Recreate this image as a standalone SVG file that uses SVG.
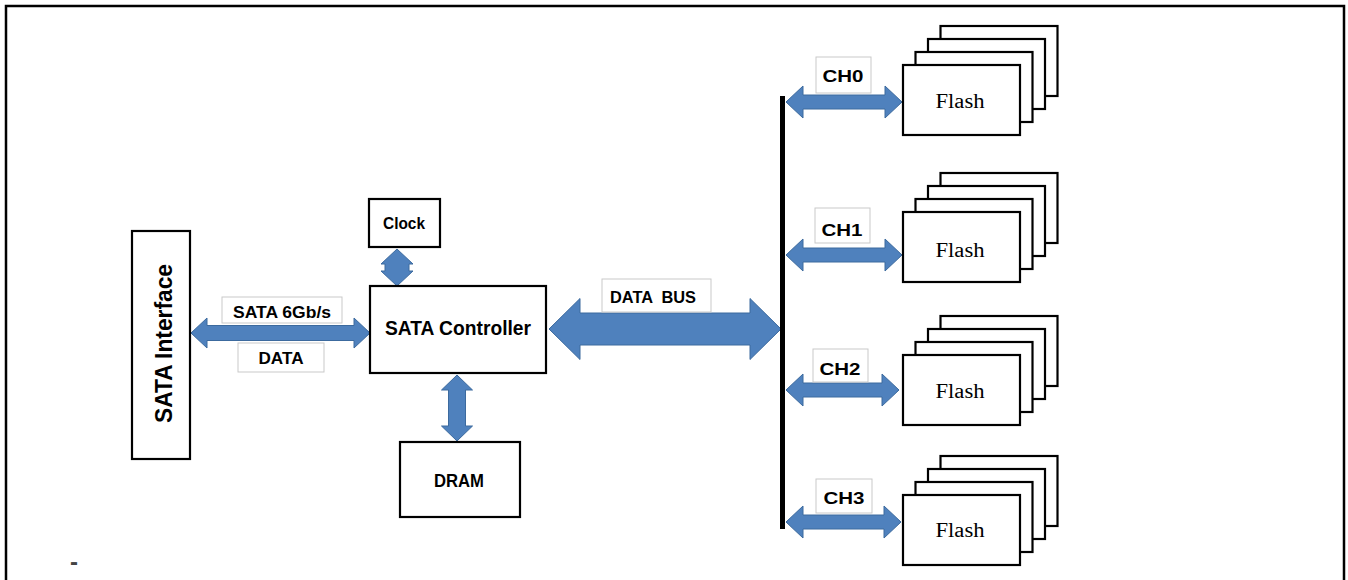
<svg xmlns="http://www.w3.org/2000/svg" width="1348" height="580" viewBox="0 0 1348 580">
<style>
.box{fill:#fff;stroke:#000;stroke-width:2.2}
.lbl{fill:#fff;stroke:#c9c9c9;stroke-width:1}
.arr{fill:#4f81bd;stroke:#3c6a9e;stroke-width:1}
.t{font-family:"Liberation Sans",Arial,sans-serif;font-weight:bold;fill:#000;text-anchor:middle;white-space:pre}
.f{font-family:"Liberation Serif","Times New Roman",serif;font-size:20px;fill:#000;text-anchor:middle}
</style>
<defs>
<g id="stack">
<rect class="box" x="37.5" y="-39" width="117" height="70"/>
<rect class="box" x="25" y="-26" width="117" height="70"/>
<rect class="box" x="12.5" y="-13" width="117" height="70"/>
<rect class="box" x="0" y="0" width="117" height="70"/>
</g>
</defs>
<rect width="1348" height="580" fill="#fff"/>
<path d="M6,580 L6,6 L1344,6 L1344,580" fill="none" stroke="#000" stroke-width="2.5"/>
<text x="70" y="570" style="font-family:'Liberation Sans',Arial,sans-serif;font-weight:bold;font-size:24px;fill:#444">-</text>

<g id="connectors">
<path class="arr" d="M191,333 L207,318 L207,325.5 L354,325.5 L354,318 L370,333 L354,348 L354,340.5 L207,340.5 L207,348 Z"/>
<path class="arr" d="M397,249 L413,264 L409,264 L409,271 L413,271 L397,286 L381,271 L385,271 L385,264 L381,264 Z"/>
<path class="arr" d="M457,375 L472.5,390 L465.5,390 L465.5,426 L472.5,426 L457,441 L441.5,426 L448.5,426 L448.5,390 L441.5,390 Z"/>
<path class="arr" d="M549,329 L580,298.5 L580,313 L750,313 L750,298.5 L781,329 L750,359.5 L750,345 L580,345 L580,359.5 Z"/>
<path class="arr" d="M786,102 L803,86 L803,95 L885,95 L885,86 L902,102 L885,118 L885,109 L803,109 L803,118 Z"/>
<path class="arr" d="M786,255 L803,239 L803,248 L885,248 L885,239 L902,255 L885,271 L885,262 L803,262 L803,271 Z"/>
<path class="arr" d="M786,390 L803,374 L803,383 L882,383 L882,374 L899,390 L882,406 L882,397 L803,397 L803,406 Z"/>
<path class="arr" d="M786,522 L803,506 L803,515 L884,515 L884,506 L901,522 L884,538 L884,529 L803,529 L803,538 Z"/>
<rect x="780" y="96" width="5" height="433" fill="#000"/>
<rect class="lbl" x="222" y="297" width="120" height="26"/>
<text class="t" x="282" y="318" font-size="17" textLength="98" lengthAdjust="spacingAndGlyphs">SATA 6Gb/s</text>
<rect class="lbl" x="238" y="343" width="86" height="29"/>
<text class="t" x="281" y="364" font-size="17" textLength="45" lengthAdjust="spacingAndGlyphs">DATA</text>
<rect class="lbl" x="602" y="279" width="109" height="33"/>
<text class="t" x="653" y="303" font-size="17" textLength="86" lengthAdjust="spacingAndGlyphs" xml:space="preserve">DATA  BUS</text>
<rect class="lbl" x="816" y="57" width="55" height="36"/>
<text class="t" x="843" y="82" font-size="17" textLength="41" lengthAdjust="spacingAndGlyphs">CH0</text>
<rect class="lbl" x="815" y="208" width="55" height="35"/>
<text class="t" x="842" y="236" font-size="17" textLength="41" lengthAdjust="spacingAndGlyphs">CH1</text>
<rect class="lbl" x="813" y="349" width="55" height="33"/>
<text class="t" x="840" y="375" font-size="17" textLength="41" lengthAdjust="spacingAndGlyphs">CH2</text>
<rect class="lbl" x="816" y="479" width="56" height="34"/>
<text class="t" x="844" y="504" font-size="17" textLength="41" lengthAdjust="spacingAndGlyphs">CH3</text>
</g>

<g id="sata-interface">
<rect class="box" x="132" y="231" width="58" height="228"/>
<text class="t" transform="translate(172,343.5) rotate(-90)" x="0" y="0" font-size="23" textLength="159" lengthAdjust="spacingAndGlyphs">SATA Interface</text>
</g>
<g id="clock">
<rect class="box" x="369" y="199" width="71" height="48"/>
<text class="t" x="404" y="229" font-size="16.5" textLength="42" lengthAdjust="spacingAndGlyphs">Clock</text>
</g>
<g id="sata-controller">
<rect class="box" x="370" y="286" width="176" height="87"/>
<text class="t" x="458" y="335" font-size="20.5" textLength="146" lengthAdjust="spacingAndGlyphs">SATA Controller</text>
</g>
<g id="dram">
<rect class="box" x="400" y="442" width="120" height="75"/>
<text class="t" x="459" y="487" font-size="18.5" textLength="50" lengthAdjust="spacingAndGlyphs">DRAM</text>
</g>
<g id="flash0">
<use href="#stack" x="903" y="65"/>
<text class="f" x="960" y="108" textLength="49" lengthAdjust="spacingAndGlyphs">Flash</text>
</g>
<g id="flash1">
<use href="#stack" x="903" y="212"/>
<text class="f" x="960" y="257" textLength="49" lengthAdjust="spacingAndGlyphs">Flash</text>
</g>
<g id="flash2">
<use href="#stack" x="903" y="355"/>
<text class="f" x="960" y="398" textLength="49" lengthAdjust="spacingAndGlyphs">Flash</text>
</g>
<g id="flash3">
<use href="#stack" x="903" y="495"/>
<text class="f" x="960" y="537" textLength="49" lengthAdjust="spacingAndGlyphs">Flash</text>
</g>
</svg>
